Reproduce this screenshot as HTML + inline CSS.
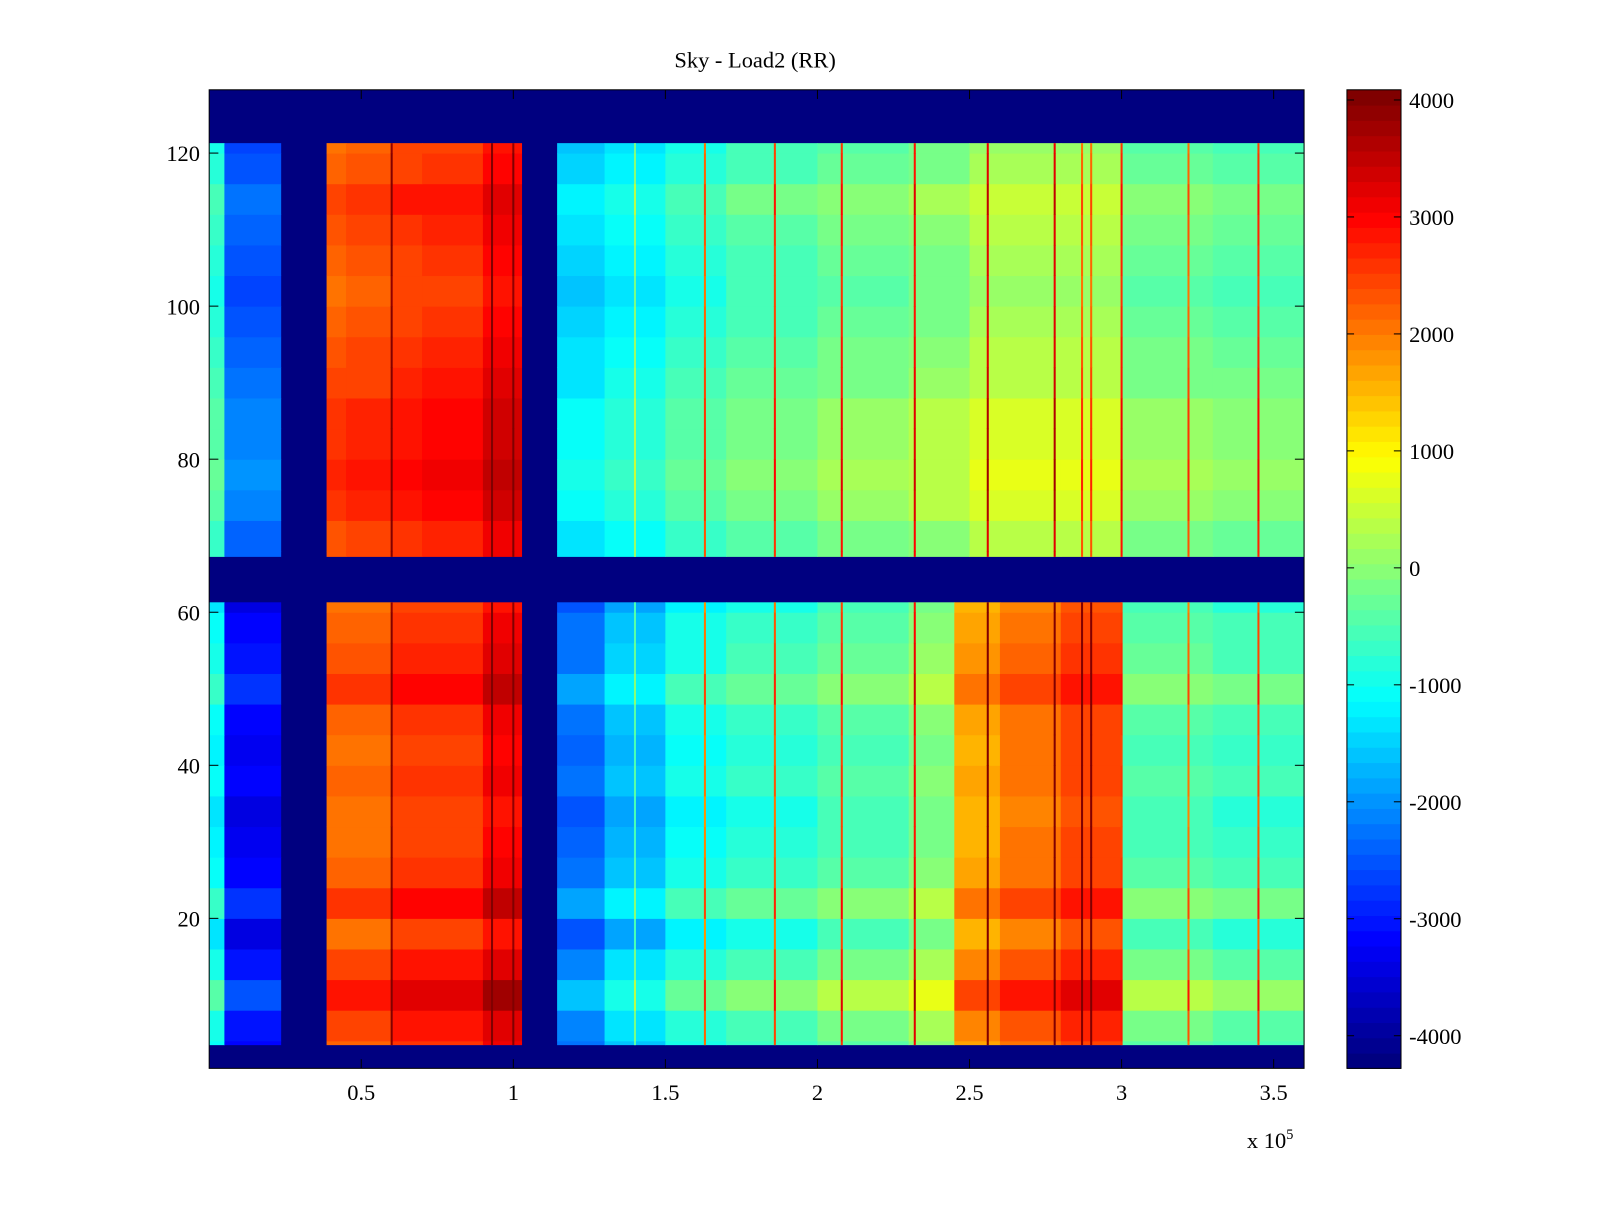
<!DOCTYPE html>
<html><head><meta charset="utf-8"><style>
html,body{margin:0;padding:0;background:#fff;}
svg text{font-family:"Liberation Serif",serif;fill:#000;}
</style></head><body>
<svg id="chart" width="1600" height="1200" viewBox="0 0 1600 1200" xmlns="http://www.w3.org/2000/svg">
<rect width="1600" height="1200" fill="#fff"/>
<g transform="scale(1.0204)">
<text x="740" y="66" font-size="22" text-anchor="middle">Sky - Load2 (RR)</text>
<g id="cells"></g>
<g id="spikes"></g>
<rect x="205" y="88" width="1073" height="959" fill="none" stroke="#000" stroke-width="1"/>
<g id="axes"></g>
<g id="cbar"></g>
<text x="1222" y="1125" font-size="22">x 10<tspan dy="-9" font-size="14">5</tspan></text>
</g>
</svg>
<script>
// ---- data ----
const xEdgesUpper = [0,0.05,0.235,0.386,0.45,0.6,0.7,0.9,1.027,1.144,1.3,1.5,1.7,2.0,2.3,2.5,2.8,3.0,3.3,3.6];
const valuesUpper = [-700,-2400,null,2300,2400,2600,2700,3100,null,-1400,-1100,-700,-400,-200,0,300,300,-200,-300];
const xEdgesLower = [0,0.05,0.235,0.386,0.6,0.9,1.027,1.144,1.3,1.5,1.7,2.0,2.3,2.45,2.6,2.8,3.0,3.3,3.6];
const valuesLower = [-1100,-3200,null,2200,2600,3100,null,-2300,-1600,-1000,-700,-400,0,1700,2100,2500,-400,-600];
const rowOffsets = [0,200,700,200,-200,400,0,-100,-200,0,-100,0,400,100,0,-200,0,0,300,400,300,300,100,0,-100,-200,-100,0,200,-100,-200,0];
const lowerRows = [3.5,61.3];
const upperRows = [67.3,121.3];
const spikeX = [0.6,0.93,1.0,1.4,1.63,1.86,2.08,2.32,2.56,2.78,2.87,2.9,3.0,3.22,3.45];
const spikeAmp = [1500,1500,1000,1200,3000,3000,3000,3000,3000,3000,2000,2000,3000,2500,3000];
const xTicks = [0.5,1,1.5,2,2.5,3,3.5];
const xTickLabels = ["0.5","1","1.5","2","2.5","3","3.5"];
const yTicks = [20,40,60,80,100,120];
const cTicks = [4000,3000,2000,1000,0,-1000,-2000,-3000,-4000];
// ---- scales ----
const X0=205,X1=1278,Y0=88,Y1=1047;
const xmin=0,xmax=3.6,ymin=0.4,ymax=128.27;
const cmin=-4279,cmax=4087;
const xs=v=>X0+(v-xmin)/(xmax-xmin)*(X1-X0);
const ys=v=>Y1-(v-ymin)/(ymax-ymin)*(Y1-Y0);
function jet(val){
  let t=(val-cmin)/(cmax-cmin); t=Math.max(0,Math.min(1,t));
  t=Math.min(63,Math.floor(t*64))/63;
  const c=a=>Math.round(255*Math.max(0,Math.min(1,a)));
  return `rgb(${c(1.5-Math.abs(4*t-3))},${c(1.5-Math.abs(4*t-2))},${c(1.5-Math.abs(4*t-1))})`;
}
const NS="http://www.w3.org/2000/svg";
function mk(tag,attrs,parent){const e=document.createElementNS(NS,tag);for(const k in attrs)e.setAttribute(k,attrs[k]);parent.appendChild(e);return e;}
const cells=document.getElementById('cells');
const bg=mk('rect',{x:X0,y:Y0,width:X1-X0,height:Y1-Y0,fill:jet(cmin)},cells);


function drawHalf(edges,vals,rows,name){
  for(let g=0;g<rowOffsets.length;g++){
    const r0=Math.max(g*4,rows[0]),r1=Math.min(g*4+4,rows[1]);
    if(r1<=r0)continue;
    for(let j=0;j<vals.length;j++){
      if(vals[j]===null)continue;
      const e=mk('rect',{x:xs(edges[j]),y:ys(r1),width:xs(edges[j+1])-xs(edges[j])+0.5,height:ys(r0)-ys(r1)+0.5,fill:jet(vals[j]+rowOffsets[g])},cells);
      
      
    }
  }
}
drawHalf(xEdgesUpper,valuesUpper,upperRows,'upper');
drawHalf(xEdgesLower,valuesLower,lowerRows,'lower');
function baseAt(edges,vals,x){for(let j=0;j<vals.length;j++)if(x>=edges[j]&&x<edges[j+1])return vals[j];return null;}
const sp=document.getElementById('spikes');
[[xEdgesUpper,valuesUpper,upperRows],[xEdgesLower,valuesLower,lowerRows]].forEach(([ed,va,rows])=>{
  spikeX.forEach((sx,k)=>{
    const b=baseAt(ed,va,sx); if(b===null)return;
    for(let g=0;g<rowOffsets.length;g++){
      const r0=Math.max(g*4,rows[0]),r1=Math.min(g*4+4,rows[1]);
      if(r1<=r0)continue;
      const e=mk('rect',{x:xs(sx)-1,y:ys(r1),width:2,height:ys(r0)-ys(r1)+0.5,fill:jet(b+rowOffsets[g]+spikeAmp[k])},sp);
      
      
    }
  });
});
// axes
const ax=document.getElementById('axes');
xTicks.forEach((t,i)=>{
  const x=xs(t);
  mk('line',{x1:x,y1:Y1,x2:x,y2:Y1-9,stroke:'#000'},ax);
  mk('line',{x1:x,y1:Y0,x2:x,y2:Y0+9,stroke:'#000'},ax);
  const tx=mk('text',{x:x,y:1078,'font-size':22,'text-anchor':'middle'},ax);
  tx.textContent=xTickLabels[i];
  
  
});
yTicks.forEach(t=>{
  const y=ys(t);
  mk('line',{x1:X0,y1:y,x2:X0+9,y2:y,stroke:'#000'},ax);
  mk('line',{x1:X1,y1:y,x2:X1-9,y2:y,stroke:'#000'},ax);
  const tx=mk('text',{x:196,y:y+8,'font-size':22,'text-anchor':'end'},ax);
  tx.textContent=String(t);
  
  
});
// colorbar
const cb=document.getElementById('cbar');
const CX0=1320,CX1=1373;
const cy=v=>Y1-(v-cmin)/(cmax-cmin)*(Y1-Y0);
for(let i=0;i<64;i++){
  const v0=cmin+(cmax-cmin)*i/64,v1=cmin+(cmax-cmin)*(i+1)/64;
  const e=mk('rect',{x:CX0,y:cy(v1),width:CX1-CX0,height:cy(v0)-cy(v1)+0.5,fill:jet((v0+v1)/2)},cb);
  
  
}
mk('rect',{x:CX0,y:Y0,width:CX1-CX0,height:Y1-Y0,fill:'none',stroke:'#000'},cb);
cTicks.forEach(t=>{
  const y=cy(t);
  mk('line',{x1:CX0,y1:y,x2:CX0+7,y2:y,stroke:'#000'},cb);
  mk('line',{x1:CX1,y1:y,x2:CX1-7,y2:y,stroke:'#000'},cb);
  const tx=mk('text',{x:1381,y:y+8,'font-size':22},cb);
  tx.textContent=String(t);
  
  
});
</script>
</body></html>
